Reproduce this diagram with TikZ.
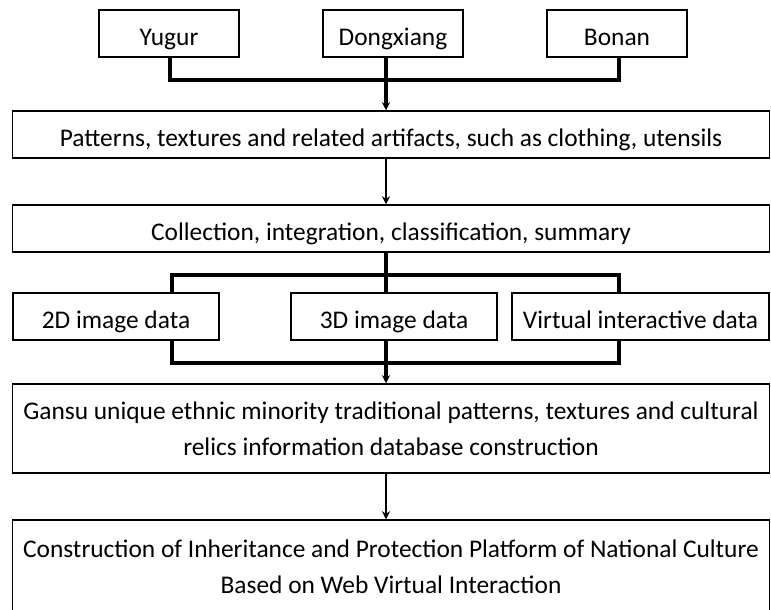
\documentclass[tikz,border=0pt]{standalone}
\usepackage{fontspec}
\setmainfont{Carlito}
\usetikzlibrary{arrows.meta}

\begin{document}
\begin{tikzpicture}[
  box/.style={draw,line width=1.5bp,inner sep=0pt,align=center,font=\fontsize{25.5}{36}\selectfont},
  linebox/.style={box,minimum height=47bp,text height=23bp,text depth=0bp},
  bus/.style={line width=3.2bp},
  flow/.style={-{Stealth[length=8bp,width=8bp]},line width=2.4bp}]

\useasboundingbox (0bp,0bp) rectangle (771bp,-610bp);
\coordinate (spine) at (386bp,0bp);

% the three nationalities
\node (Yugur) at (169bp,-33.5bp)[linebox,minimum width=140bp] {Yugur};
\node (Dongxiang) at (393bp,-33.5bp)[linebox,minimum width=140bp] {Dongxiang};
\node (Bonan) at (617bp,-33.5bp)[linebox,minimum width=140bp] {Bonan};

\node (Patterns) at (391bp,-134.5bp)[linebox,minimum width=757bp] {Patterns, textures and related artifacts, such as clothing, utensils};
\node (Collect) at (391bp,-228.5bp)[linebox,minimum width=757bp] {Collection, integration, classification, summary};

% data types
\node (TwoD) at (116bp,-316.5bp)[linebox,minimum width=206bp] {2D image data};
\node (ThreeD) at (394bp,-316.5bp)[linebox,minimum width=206bp] {3D image data};
\node (Virtual) at (640.5bp,-316.5bp)[linebox,minimum width=257bp] {Virtual interactive data};

\node (Database) at (391bp,-428.5bp)[box,minimum width=757bp,minimum height=89bp] {Gansu unique ethnic minority traditional patterns, textures and cultural\\relics information database construction};
\node (Platform) at (391bp,-567bp)[box,minimum width=757bp,minimum height=94bp] {Construction of Inheritance and Protection Platform of National Culture\\Based on Web Virtual Interaction};

% top bus
\coordinate (topjoin) at (386bp,-80bp);
\draw [bus] (Yugur.south -| 170bp,0) |- (topjoin) -| (Bonan.south -| 619bp,0);
\draw [bus,flow,line width=3.2bp] (Dongxiang.south -| spine) -- (Patterns.north -| spine);
\draw [flow] (Patterns.south -| spine) -- (Collect.north -| spine);

% split into data types
\coordinate (split) at (386bp,-275bp);
\draw [bus] (Collect.south -| spine) -- (ThreeD.north -| spine);
\draw [bus] (TwoD.north -| 172bp,0) |- (split) -| (Virtual.north -| 619bp,0);

% merge into database
\coordinate (merge) at (386bp,-363bp);
\draw [bus] (TwoD.south -| 172bp,0) |- (merge) -| (Virtual.south -| 619bp,0);
\draw [bus,flow,line width=3.2bp] (ThreeD.south -| spine) -- (Database.north -| spine);
\draw [flow] (Database.south -| spine) -- (Platform.north -| spine);
\end{tikzpicture}
\end{document}
